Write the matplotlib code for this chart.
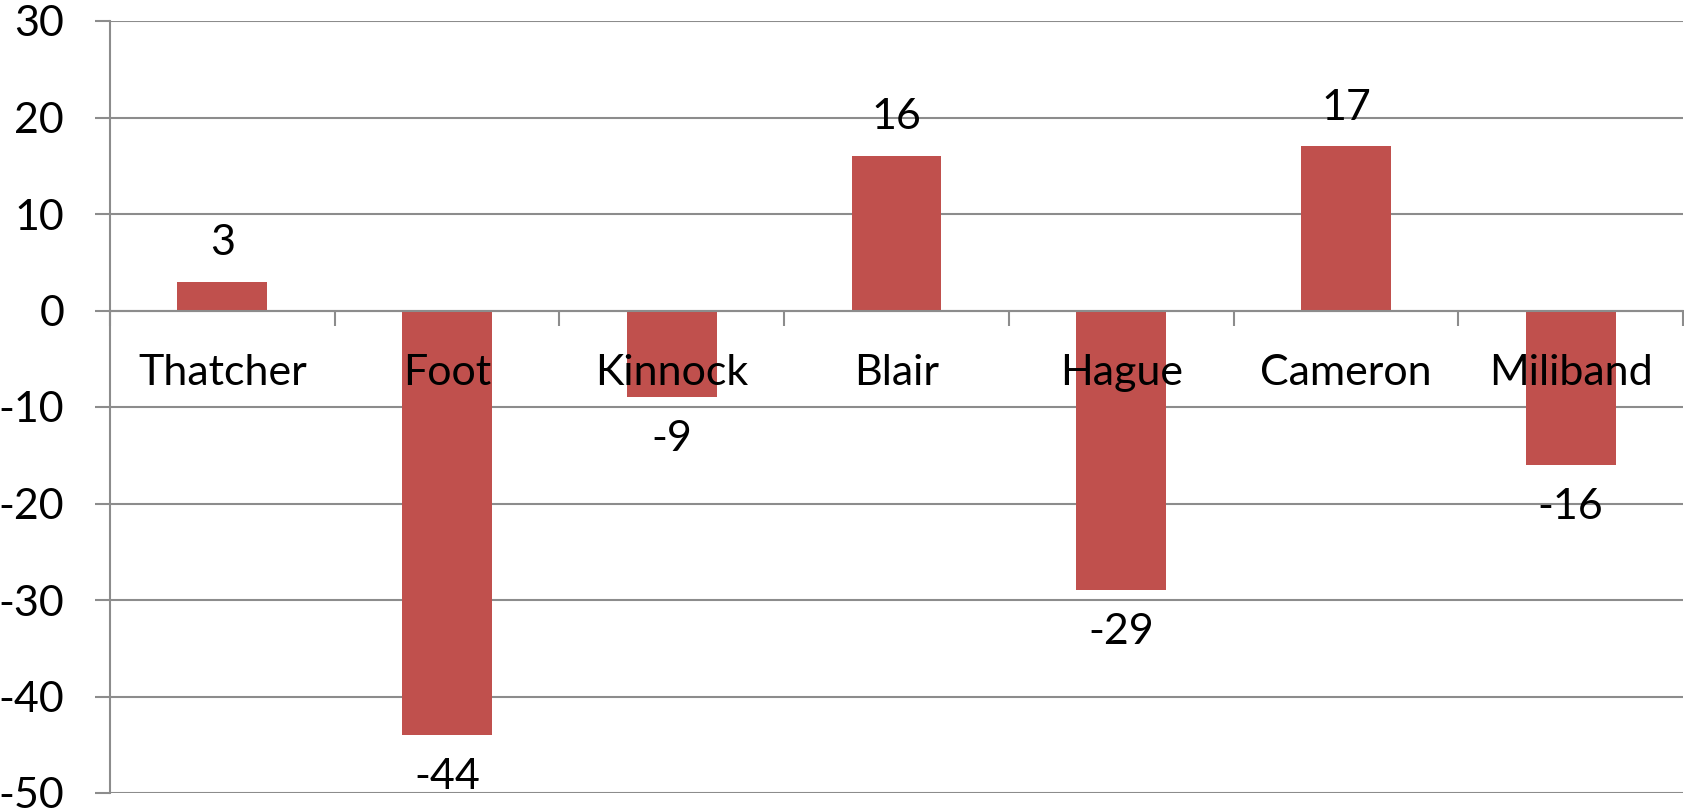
import matplotlib
matplotlib.use('Agg')
from matplotlib import pyplot as plt
import numpy as np

leaders = ["Thatcher", "Foot", "Kinnock", "Blair", "Hague", "Cameron", "Miliband"]
ratings = [3, -44, -9, 16, -29, 17, -16]
yticks = [-50, -40, -30, -20, -10, 0, 10, 20, 30]

plt.rcParams['font.family'] = ['Lato', 'DejaVu Sans']
plt.rcParams['axes.unicode_minus'] = False
grey = '#8c8c8c'
bar_col = '#c0504d'

fig = plt.figure(figsize=(16.84, 8.09), dpi=100)
ax = fig.add_axes([110 / 1684, 1 - 793 / 809, 1573 / 1684, 772 / 809])

x = np.arange(len(leaders))
ax.bar(x, ratings, width=0.4, color=bar_col, zorder=2)

ax.set_xlim(-0.5, len(leaders) - 0.5)
ax.set_ylim(yticks[0], yticks[-1])
ax.set_yticks(yticks)
ax.set_axisbelow(True)
ax.yaxis.grid(True, color=grey, linewidth=1.5)
ax.tick_params(axis='y', length=11, width=1.5, color=grey, pad=22, labelsize=31)

for s in ['top', 'right']:
    ax.spines[s].set_visible(False)
ax.spines['left'].set_color(grey)
ax.spines['left'].set_linewidth(1.5)
ax.spines['bottom'].set_position(('data', 0))
ax.spines['bottom'].set_color(grey)
ax.spines['bottom'].set_linewidth(1.5)
ax.spines['bottom'].set_zorder(3)

ax.set_xticks(np.arange(len(leaders) + 1) - 0.5)
ax.set_xticklabels([])
ax.tick_params(axis='x', length=11, width=1.5, color=grey)

for i, name in enumerate(leaders):
    ax.annotate(name, (i, 0), xytext=(0, -45), textcoords='offset points',
                ha='center', va='center', fontsize=31, zorder=5)

for i, v in enumerate(ratings):
    off = 28 if v > 0 else -30
    ax.annotate(str(v), (i, v), xytext=(0, off), textcoords='offset points',
                ha='center', va='center', fontsize=31, zorder=5)

fig.savefig("out.png", dpi=100)
